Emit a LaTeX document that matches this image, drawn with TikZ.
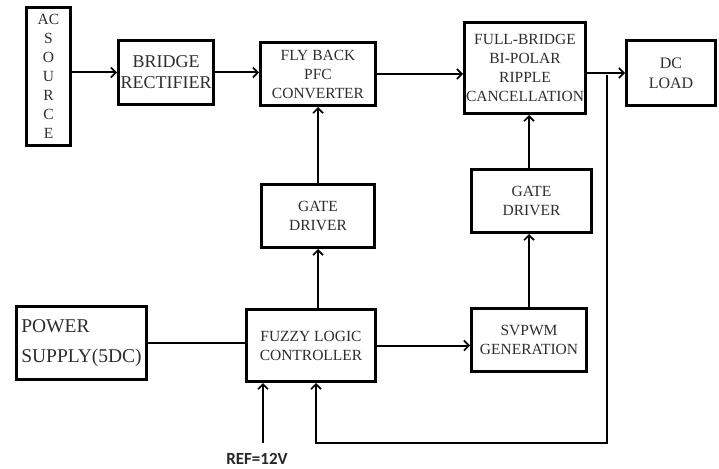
\documentclass[tikz,border=0pt]{standalone}
\usepackage{fontspec}
\setmainfont{Liberation Serif}
\newfontfamily\reffont{Carlito}
\usetikzlibrary{arrows.meta, positioning, calc}
\definecolor{ctext}{HTML}{2E2E2E}
\tikzset{
  every picture/.style={line width=2pt},
  block/.style={draw=black, line width=3pt, fill=white, align=center, inner sep=1pt,
    text=ctext, font=\fontsize{15.5}{19}\selectfont},
  arrow/.style={-{Straight Barb[length=5pt, width=10pt, line width=1.6pt]}, draw=black, line width=2pt},
  wire/.style={draw=black, line width=2pt},
  label/.style={font=\reffont\bfseries\fontsize{17}{20}\selectfont, text=black!85},
}

\begin{document}
\begin{tikzpicture}[x=1pt, y=-1pt]
  \useasboundingbox (0,0) rectangle (719,468);
  % top row
  \node[block, minimum width=44pt, minimum height=138pt] (ac) at (48.5,76.5) {AC\\S\\O\\U\\R\\C\\E};
  \node[block, minimum width=95pt, minimum height=64pt, font=\fontsize{18}{21}\selectfont] (br) at (166,72.5) {BRIDGE\\RECTIFIER};
  \node[block, minimum width=115pt, minimum height=63pt] (fly) at (318,74) {FLY BACK\\PFC\\CONVERTER};
  \node[block, minimum width=121pt, minimum height=91pt] (fb) at (525,68) {FULL-BRIDGE\\BI-POLAR\\RIPPLE\\CANCELLATION};
  \node[block, minimum width=89pt, minimum height=65pt, font=\fontsize{16}{20}\selectfont] (load) at (671,73) {DC\\LOAD};
  % drivers
  \node[block, minimum width=113pt, minimum height=63pt] (g1) at (318,216) {GATE\\DRIVER};
  \node[block, minimum width=120pt, minimum height=63pt] (g2) at (531.5,201) {GATE\\DRIVER};
  % bottom row
  \node[block, align=left, minimum width=130pt, minimum height=73pt, font=\fontsize{19.5}{30}\selectfont] (ps) at (81.5,343) {POWER\\SUPPLY(5DC)};
  \node[block, minimum width=129pt, minimum height=72pt] (fz) at (311,345.5) {FUZZY LOGIC\\CONTROLLER};
  \node[block, minimum width=115pt, minimum height=63pt] (sv) at (529,340) {SVPWM\\GENERATION};
  \node[label] (ref) at (257,459) {REF=12V};
  \coordinate (tap) at (607,75);
  \coordinate (ret) at (316,443);
  \coordinate (refin) at (263,443);

  \draw[arrow] (ac.east |- br.west) -- (br.west);
  \draw[arrow] (br.east) -- (fly.west |- br.east);
  \draw[arrow] (fly.east) -- (fb.west |- fly.east);
  \draw[arrow, line width=1.2pt] (fb.east |- load.west) -- (load.west);
  \draw[arrow] (g1.north) -- (fly.south);
  \draw[arrow] (fz.north -| g1.south) -- (g1.south);
  \draw[wire] (ps.east) -- (fz.west |- ps.east);
  \draw[arrow] (fz.east) -- (sv.west |- fz.east);
  \draw[arrow] (sv.north) -- (g2.south -| sv.north);
  \draw[arrow] (g2.north -| sv.north) -- (fb.south -| sv.north);
  \draw[arrow] (refin) -- (refin |- fz.south);
  \draw[arrow] (tap) |- (ret) -- (ret |- fz.south);
\end{tikzpicture}
\end{document}
